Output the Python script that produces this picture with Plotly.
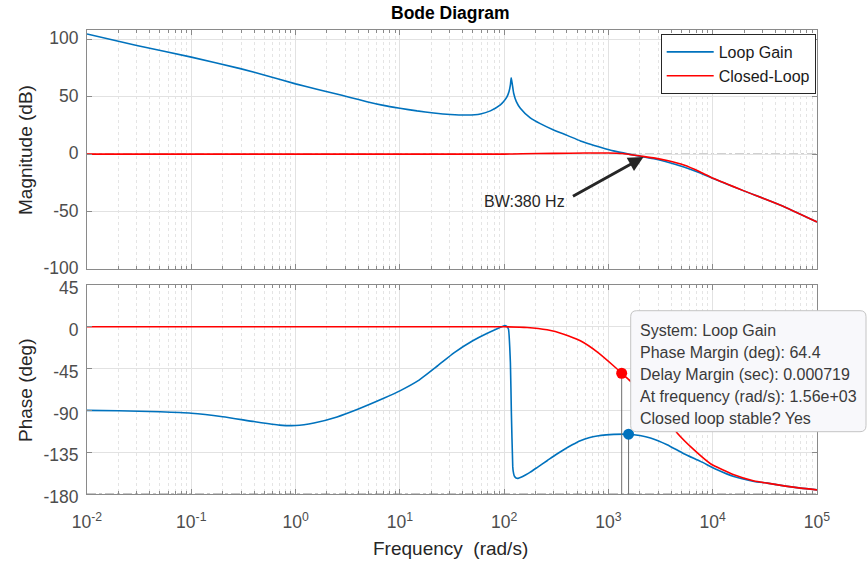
import numpy as np
import plotly.graph_objects as go

# ---------------- data ----------------
loop_mag_freq = [0.01, 0.03, 0.1, 0.295, 0.55, 1.0, 1.6, 2.31, 3.34, 4.83, 6.96, 10, 14.6, 21.1,
                 30.5, 44, 59.2, 73.8, 92, 98.9, 106.7, 111.4, 114.8, 116.9, 120, 123.4, 130.9,
                 143, 178, 222, 298, 402, 538, 671, 838, 1117, 1560, 2028, 2800, 3656, 5285,
                 7600, 10257, 19900, 44800, 100000]
loop_mag_db = [104.5, 94.5, 84.4, 74.4, 67.8, 61.1, 56.4, 53.0, 49.3, 45.6, 42.4, 39.9, 37.6, 35.8,
               34.5, 34.0, 34.9, 37.6, 42.8, 45.7, 50.0, 54.4, 60.2, 66.5, 60.2, 53.0, 45.7,
               39.9, 31.5, 26.5, 21.0, 16.3, 11.5, 8.6, 6.0, 2.8, 0.0, -2.0, -4.2, -6.8, -11.2,
               -16.5, -21.5, -32.0, -44.5, -59.1]

cl_mag_freq = [0.01, 1, 100, 150, 300, 600, 1000, 1360, 2028, 2800, 3656, 5285, 7600, 10257,
               19900, 44800, 100000]
cl_mag_db = [0, 0, 0, 0.3, 0.6, 0.9, 1.0, 0.5, -1.7, -3.5, -5.6, -9.5, -15.5, -21.3,
             -32.0, -44.5, -59.1]

loop_ph_freq = [0.01, 0.02, 0.05, 0.1, 0.2, 0.4, 0.7, 1.0, 1.5, 2.5, 4, 7, 10, 15, 22.9, 33, 50,
                69, 90, 100, 106, 110, 114.8, 117.3, 120.9, 122, 125, 130, 136, 145, 160, 178,
                210, 258, 310, 373, 450, 538, 650, 779, 950, 1125, 1560, 2000, 2529, 3656, 5285,
                7638, 11040, 15950, 25000, 33350, 50000, 69700, 100000]
loop_ph_deg = [-90.0, -90.4, -91.5, -93.0, -96.8, -102.0, -105.8, -106.3, -103.5, -97.0, -88.5,
               -77.0, -69.0, -58.0, -42.2, -28.0, -15.0, -7.0, -1.0, 1.2, 0.5, -2.5, -38.5,
               -92.6, -150.0, -155.0, -160.5, -162.8, -163.2, -162.0, -159.5, -156.5, -151.0,
               -144.2, -138.0, -132.3, -127.0, -122.6, -119.5, -117.5, -116.3, -115.8, -115.6,
               -117.0, -119.6, -126.9, -136.6, -144.9, -153.9, -161.2, -166.5, -168.3, -171.5,
               -173.7, -175.6]

cl_ph_freq = [0.01, 1, 100, 166, 258, 373, 538, 779, 1125, 1340, 1620, 1790, 2500, 3500, 4560,
              6590, 9530, 15950, 25000, 33350, 50000, 69700, 100000]
cl_ph_deg = [0, 0, 0, -0.7, -3.2, -7.9, -15.1, -27.0, -42.2, -50.0, -58.4, -62.0, -78.0, -97.0,
             -114.3, -132.3, -147.4, -159.3, -166.0, -168.3, -171.5, -173.7, -175.6]

# markers
pm_freq, pm_phase = 1560, -115.6
cl_pt_freq, cl_pt_phase = 1340, -50.0
bw_freq, bw_db = 2168, -2.6

x_tickvals = [1e-2, 1e-1, 1e0, 1e1, 1e2, 1e3, 1e4, 1e5]
x_ticktext = ["10<sup>-2</sup>", "10<sup>-1</sup>", "10<sup>0</sup>", "10<sup>1</sup>",
              "10<sup>2</sup>", "10<sup>3</sup>", "10<sup>4</sup>", "10<sup>5</sup>"]
mag_ticks = [-100, -50, 0, 50, 100]
mag_ticktext = ["-100", "-50", "0", "50", "100"]
ph_ticks = [-180, -135, -90, -45, 0, 45]
ph_ticktext = ["-180", "-135", "-90", "-45", "0", "45"]

tip_lines = ["System: Loop Gain", "Phase Margin (deg): 64.4", "Delay Margin (sec): 0.000719",
             "At frequency (rad/s): 1.56e+03", "Closed loop stable? Yes"]

# ---------------- figure ----------------
W, H = 867, 565
L, R, T, B = 87, 50, 30, 71
PW, PH = W - L - R, H - T - B

def px(xp):
    return (xp - L) / PW

def py(yp):
    return (H - B - yp) / PH

BLUE = "#0072BD"
RED = "#FF0000"
FONT = "Liberation Sans, Arial, sans-serif"
LINE = dict(width=1.6, shape="spline", smoothing=0.5)

fig = go.Figure()
fig.add_trace(go.Scatter(x=loop_mag_freq, y=loop_mag_db, mode="lines", name="Loop Gain",
                         line=dict(LINE, color=BLUE), xaxis="x", yaxis="y"))
fig.add_trace(go.Scatter(x=cl_mag_freq, y=cl_mag_db, mode="lines", name="Closed-Loop",
                         line=dict(LINE, color=RED), xaxis="x", yaxis="y"))
fig.add_trace(go.Scatter(x=loop_ph_freq, y=loop_ph_deg, mode="lines", showlegend=False,
                         line=dict(LINE, color=BLUE), xaxis="x2", yaxis="y2"))
fig.add_trace(go.Scatter(x=cl_ph_freq, y=cl_ph_deg, mode="lines", showlegend=False,
                         line=dict(LINE, color=RED), xaxis="x2", yaxis="y2"))
# marker stems
for f, p in [(cl_pt_freq, cl_pt_phase), (pm_freq, pm_phase)]:
    fig.add_trace(go.Scatter(x=[f, f], y=[p, -180], mode="lines", showlegend=False,
                             line=dict(color="#6e6e6e", width=1), xaxis="x2", yaxis="y2"))
fig.add_trace(go.Scatter(x=[cl_pt_freq], y=[cl_pt_phase], mode="markers", showlegend=False,
                         marker=dict(color=RED, size=11), xaxis="x2", yaxis="y2"))
fig.add_trace(go.Scatter(x=[pm_freq], y=[pm_phase], mode="markers", showlegend=False,
                         marker=dict(color=BLUE, size=11), xaxis="x2", yaxis="y2"))

axis_common = dict(showline=True, linecolor="#8a8a8a", linewidth=1, mirror="ticks",
                   ticks="inside", ticklen=5, tickcolor="#8a8a8a",
                   showgrid=True, gridcolor="#e2e2e2", gridwidth=1, zeroline=False,
                   tickfont=dict(family=FONT, size=17.5, color="#4d4d4d"))
xminor = dict(dtick="D1", ticks="inside", ticklen=3, tickcolor="#8a8a8a",
              showgrid=True, gridcolor="#e4e4e4", griddash="dot")

fig.update_layout(
    width=W, height=H,
    margin=dict(l=L, r=R, t=T, b=B),
    paper_bgcolor="white", plot_bgcolor="white",
    xaxis=dict(axis_common, type="log", range=[-2, 5], domain=[0, 1], anchor="y",
               tickvals=x_tickvals, ticktext=x_ticktext, showticklabels=False, minor=xminor),
    yaxis=dict(axis_common, range=[-100, 108], domain=[py(269), 1], anchor="x",
               tickvals=mag_ticks, ticktext=mag_ticktext, ticklabelstandoff=4,
               ticklabelshift=-1),
    xaxis2=dict(axis_common, type="log", range=[-2, 5], domain=[0, 1], anchor="y2",
                tickvals=x_tickvals, ticktext=x_ticktext, minor=xminor, ticklabelstandoff=12),
    yaxis2=dict(axis_common, range=[-180, 45], domain=[0, py(285)], anchor="x2",
                tickvals=ph_ticks, ticktext=ph_ticktext, ticklabelstandoff=4,
                ticklabelshift=3),
    legend=dict(x=px(815.7), y=py(34), xanchor="right", yanchor="top",
                bgcolor="white", bordercolor="#262626", borderwidth=1,
                font=dict(family=FONT, size=16, color="#1a1a1a"),
                itemwidth=47, tracegroupgap=0),
    showlegend=True,
)

# dash-dot reference lines
fig.add_shape(type="line", xref="x domain", yref="y", x0=0, x1=1, y0=0, y1=0,
              line=dict(color="#8c8c8c", width=1, dash="dashdot"), layer="below")
fig.add_shape(type="line", xref="x2 domain", yref="y2", x0=0, x1=1, y0=-180, y1=-180,
              line=dict(color="#8c8c8c", width=1, dash="dashdot"), layer="below")

# data tip box with rounded corners (paper coords)
bx0, bx1, by0, by1 = px(630.7), px(866), py(431.7), py(310.7)
rx, ry = 6 / PW, 6 / PH
path = (f"M{bx0+rx},{by1} L{bx1-rx},{by1} Q{bx1},{by1} {bx1},{by1-ry} "
        f"L{bx1},{by0+ry} Q{bx1},{by0} {bx1-rx},{by0} L{bx0+rx},{by0} "
        f"Q{bx0},{by0} {bx0},{by0+ry} L{bx0},{by1-ry} Q{bx0},{by1} {bx0+rx},{by1} Z")
fig.add_shape(type="path", xref="paper", yref="paper", path=path,
              fillcolor="#f8f8fb", line=dict(color="#c4c4c4", width=1), layer="above")
for i, t in enumerate(tip_lines):
    fig.add_annotation(x=px(638.3), y=py(330.7 + 22 * i), xref="paper", yref="paper",
                       text=t, showarrow=False, xanchor="left", yanchor="middle",
                       font=dict(family=FONT, size=16, color="#3a3a3a"))

# titles
def label(x, y, text, size, color, angle=0):
    fig.add_annotation(x=px(x), y=py(y), xref="paper", yref="paper", text=text,
                       showarrow=False, xanchor="center", yanchor="middle", textangle=angle,
                       font=dict(family=FONT, size=size, color=color))

label(450, 13, "<b>Bode Diagram</b>", 17.5, "#000000")
label(25, 150, "Magnitude (dB)", 19, "#262626", -90)
label(25, 390, "Phase (deg)", 19, "#262626", -90)
label(450.5, 548, "Frequency  (rad/s)", 19, "#262626")

# bandwidth annotation
fig.add_annotation(x=np.log10(bw_freq), y=bw_db, xref="x", yref="y", text="",
                   showarrow=True, arrowhead=2, arrowsize=1, arrowwidth=3, arrowcolor="#262626",
                   ax=-72, ay=40, axref="pixel", ayref="pixel", standoff=0, startstandoff=0)
label(524, 201, "BW:380 Hz", 16, "#262626")

fig.write_html("out.html")
